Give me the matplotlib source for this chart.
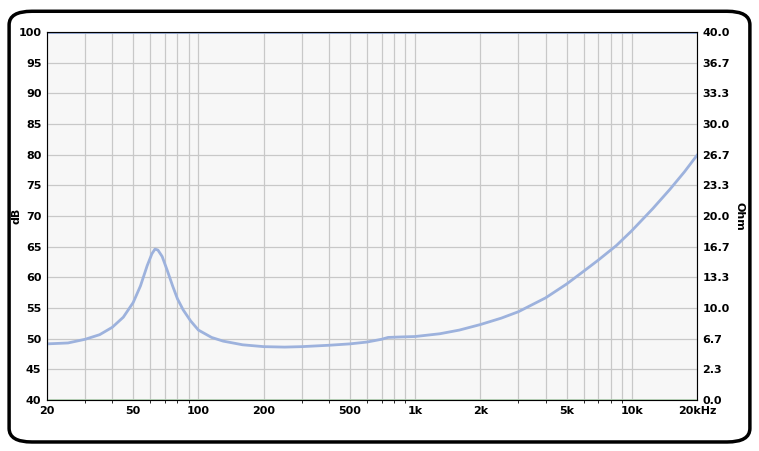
import numpy as np
import matplotlib
matplotlib.use("Agg")
from matplotlib import pyplot as plt
from matplotlib.patches import FancyBboxPatch

# impedance curve
freq = [20, 25, 30, 35, 40, 45, 50, 54, 58, 61, 63, 65, 68, 72, 76, 80, 85, 92,
        100, 115, 130, 160, 200, 250, 300, 400, 500, 600, 700, 750, 850, 1000,
        1300, 1600, 2000, 2500, 3000, 4000, 5000, 6000, 7000, 8500, 10000,
        12500, 15000, 17500, 20000]
ohm = [6.1, 6.2, 6.6, 7.1, 7.9, 9.0, 10.6, 12.4, 14.6, 15.9, 16.4, 16.3, 15.6,
       14.0, 12.4, 11.0, 9.8, 8.6, 7.6, 6.8, 6.4, 6.0, 5.8, 5.75, 5.8, 5.95,
       6.1, 6.3, 6.6, 6.8, 6.85, 6.9, 7.2, 7.6, 8.2, 8.9, 9.6, 11.1, 12.6,
       14.0, 15.2, 16.8, 18.4, 20.8, 22.9, 24.8, 26.6]

db_ticks = [40, 45, 50, 55, 60, 65, 70, 75, 80, 85, 90, 95, 100]
ohm_labels = ["0.0", "2.3", "6.7", "10.0", "13.3", "16.7", "20.0", "23.3",
              "26.7", "30.0", "33.3", "36.7", "40.0"]
x_ticks = [20, 50, 100, 200, 500, 1000, 2000, 5000, 10000, 20000]
x_labels = ["20", "50", "100", "200", "500", "1k", "2k", "5k", "10k", "20kHz"]

fig = plt.figure(figsize=[7.59, 4.51], dpi=100)
fig.patches.append(FancyBboxPatch((0.012, 0.02), 0.976, 0.955, boxstyle="round,pad=0,rounding_size=0.03",
                                  transform=fig.transFigure, fill=False, lw=2.5, ec="k"))
ax = fig.add_axes([47 / 759, 51 / 451, 650 / 759, 368 / 451])
ax.set_facecolor("#f7f7f7")
ax.set_xscale("log")
ax.set_xlim(20, 20000)
ax.set_ylim(40, 100)
ax.set_xticks(x_ticks)
ax.set_xticklabels(x_labels, fontsize=8, fontweight="bold")
ax.xaxis.set_minor_formatter(plt.NullFormatter())
ax.set_yticks(db_ticks)
ax.set_yticklabels([str(t) for t in db_ticks], fontsize=8, fontweight="bold")
ax.grid(True, which="both", color="#c8c8c8", lw=0.9)
ax.tick_params(length=0, pad=4)
for s in ax.spines.values():
    s.set_color("#999999")
ax.axhline(100, color="#8fa8d8", lw=2)
ax.axhline(40, color="#b8d8b8", lw=2)
ax.set_ylabel("dB", fontsize=8, fontweight="bold", labelpad=-2)

ax2 = ax.twinx()
ax2.set_ylim(0, 40)
ax2.set_yticks(np.linspace(0, 40, 13))
ax2.set_yticklabels(ohm_labels, fontsize=8, fontweight="bold")
ax2.tick_params(length=0, pad=4)
ax2.set_ylabel("Ohm", fontsize=8, fontweight="bold", rotation=270, labelpad=10)
ax2.plot(freq, ohm, color="#9db2dd", lw=2)

fig.savefig("out.png")
